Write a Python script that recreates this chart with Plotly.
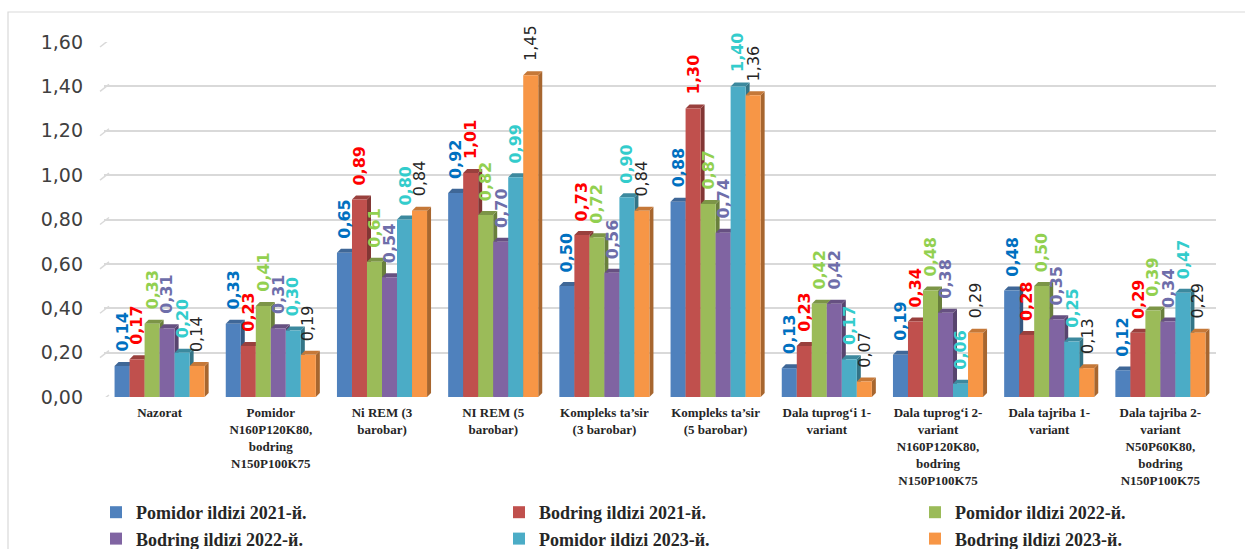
import plotly.graph_objects as go

# Categories (experiment variants)
categories = [
    "Nazorat",
    "Pomidor<br>N160P120K80,<br>bodring<br>N150P100K75",
    "Ni REM (3<br>barobar)",
    "NI REM (5<br>barobar)",
    "Kompleks ta\u2019sir<br>(3 barobar)",
    "Kompleks ta\u2019sir<br>(5 barobar)",
    "Dala tuprog\u2018i 1-<br>variant",
    "Dala tuprog\u2018i 2-<br>variant<br>N160P120K80,<br>bodring<br>N150P100K75",
    "Dala tajriba 1-<br>variant",
    "Dala tajriba 2-<br>variant<br>N50P60K80,<br>bodring<br>N150P100K75",
]

series_names = [
    "Pomidor ildizi 2021-й.",
    "Bodring ildizi 2021-й.",
    "Pomidor ildizi 2022-й.",
    "Bodring ildizi 2022-й.",
    "Pomidor ildizi 2023-й.",
    "Bodring ildizi 2023-й.",
]

pomidor_2021 = [0.14, 0.33, 0.65, 0.92, 0.50, 0.88, 0.13, 0.19, 0.48, 0.12]
bodring_2021 = [0.17, 0.23, 0.89, 1.01, 0.73, 1.30, 0.23, 0.34, 0.28, 0.29]
pomidor_2022 = [0.33, 0.41, 0.61, 0.82, 0.72, 0.87, 0.42, 0.48, 0.50, 0.39]
bodring_2022 = [0.31, 0.31, 0.54, 0.70, 0.56, 0.74, 0.42, 0.38, 0.35, 0.34]
pomidor_2023 = [0.20, 0.30, 0.80, 0.99, 0.90, 1.40, 0.17, 0.06, 0.25, 0.47]
bodring_2023 = [0.14, 0.19, 0.84, 1.45, 0.84, 1.36, 0.07, 0.29, 0.13, 0.29]

series_values = [pomidor_2021, bodring_2021, pomidor_2022,
                 bodring_2022, pomidor_2023, bodring_2023]

y_ticks = [0.0, 0.2, 0.4, 0.6, 0.8, 1.0, 1.2, 1.4, 1.6]

# Styling
bar_colors = ["#4F81BD", "#C0504D", "#9BBB59", "#8064A2", "#4BACC6", "#F79646"]
label_colors = ["#0070C0", "#FF0000", "#92D050", "#6E6EAA", "#33CCCC", "#262626"]
label_bold = [True, True, True, True, True, False]

W, H = 1245, 549
M_L, M_R, M_T, M_B = 104, 29, 42, 152
plot_w = W - M_L - M_R
plot_h = H - M_T - M_B
Y_MAX = 1.6

BARGAP = 0.19
n_series = len(series_values)
bar_w = (1 - BARGAP) / n_series
depth_x = 4.0 * (len(categories)) / plot_w      # 4 px in x data units
depth_y = 4.0 * Y_MAX / plot_h                  # 4 px in y data units

# legend laid out as three columns of two entries each
legend_ids = ["legend", "legend2", "legend3"]
legend_x_px = [96, 499, 915]


def shade(hex_color, f):
    h = hex_color.lstrip("#")
    r, g, b = (int(h[i:i + 2], 16) for i in (0, 2, 4))
    return "#%02X%02X%02X" % (int(r * f), int(g * f), int(b * f))


def fmt(v):
    return f"{v:.2f}".replace(".", ",")


x_idx = list(range(len(categories)))

fig = go.Figure()
shapes = []
annotations = []

for s, (name, vals) in enumerate(zip(series_names, series_values)):
    fig.add_trace(go.Bar(
        x=x_idx, y=vals, name=name,
        marker=dict(color=bar_colors[s], line=dict(width=0)),
        hoverinfo="name+y",
        legend=legend_ids[s % 3],
    ))
    for k, v in enumerate(vals):
        xc = k - (1 - BARGAP) / 2 + bar_w * (s + 0.5)
        xl, xr = xc - bar_w / 2, xc + bar_w / 2
        # right side face
        shapes.append(dict(
            type="path", xref="x", yref="y", layer="between",
            path=f"M{xr},0 L{xr},{v} L{xr + depth_x},{v + depth_y} L{xr + depth_x},{depth_y} Z",
            fillcolor=shade(bar_colors[s], 0.68), line=dict(width=0),
        ))
        # top face
        shapes.append(dict(
            type="path", xref="x", yref="y", layer="between",
            path=f"M{xl},{v} L{xl + depth_x},{v + depth_y} L{xr + depth_x},{v + depth_y} L{xr},{v} Z",
            fillcolor=shade(bar_colors[s], 0.8), line=dict(width=0),
        ))
        # vertical value label
        txt = fmt(v)
        if label_bold[s]:
            txt = f"<b>{txt}</b>"
        annotations.append(dict(
            x=xc, y=v, xref="x", yref="y", text=txt, showarrow=False,
            textangle=-90, xanchor="center", yanchor="bottom", yshift=12,
            font=dict(family="DejaVu Sans", size=16, color=label_colors[s]),
        ))

# small perspective ticks at the left end of each gridline
for t in y_ticks:
    shapes.append(dict(
        type="line", xref="paper", yref="y", layer="below",
        x0=-4 / plot_w, x1=5 / plot_w,
        y0=t - 5 * Y_MAX / plot_h, y1=t + 2 * Y_MAX / plot_h,
        line=dict(color="#D9D9D9", width=1.5),
    ))

# outer chart frame
shapes.append(dict(
    type="rect", xref="paper", yref="paper", layer="below",
    x0=(8 - M_L) / plot_w, x1=(W + 20 - M_L) / plot_w,
    y0=-(H + 20 - M_T - plot_h) / plot_h, y1=(plot_h + M_T - 12) / plot_h,
    line=dict(color="#D9D9D9", width=1.2), fillcolor="rgba(0,0,0,0)",
))

legend_style = dict(
    orientation="v", xref="paper", xanchor="left",
    yref="paper", y=-(494 - M_T - plot_h) / plot_h, yanchor="top",
    font=dict(family="Liberation Serif", size=18, color="#262626", weight="bold"),
    bgcolor="rgba(0,0,0,0)", itemclick=False, itemdoubleclick=False,
    traceorder="normal", tracegroupgap=0,
)

fig.update_layout(
    width=W, height=H,
    margin=dict(l=M_L, r=M_R, t=M_T, b=M_B, autoexpand=False),
    paper_bgcolor="white", plot_bgcolor="white",
    barmode="group", bargap=BARGAP, bargroupgap=0,
    separators=", ",
    showlegend=True,
    xaxis=dict(
        range=[-0.5, len(categories) - 0.5],
        tickmode="array", tickvals=x_idx,
        ticktext=[f"<b>{c}</b>" for c in categories],
        tickfont=dict(family="Liberation Serif", size=13, color="#262626"),
        showgrid=False, zeroline=False, showline=False, ticks="",
        ticklabelstandoff=6, automargin=False,
    ),
    yaxis=dict(
        range=[0, Y_MAX], tickmode="array", tickvals=y_ticks,
        tickformat=".2f",
        tickfont=dict(family="DejaVu Sans", size=19, color="#404040"),
        showgrid=True, gridcolor="#D9D9D9", gridwidth=1.5,
        zeroline=False, showline=False, ticks="",
        ticklabelstandoff=20, automargin=False,
    ),
    shapes=shapes,
    annotations=annotations,
)

for lid, px in zip(legend_ids, legend_x_px):
    fig.update_layout({lid: dict(legend_style, x=(px - M_L) / plot_w)})

fig.write_html("out.html")
